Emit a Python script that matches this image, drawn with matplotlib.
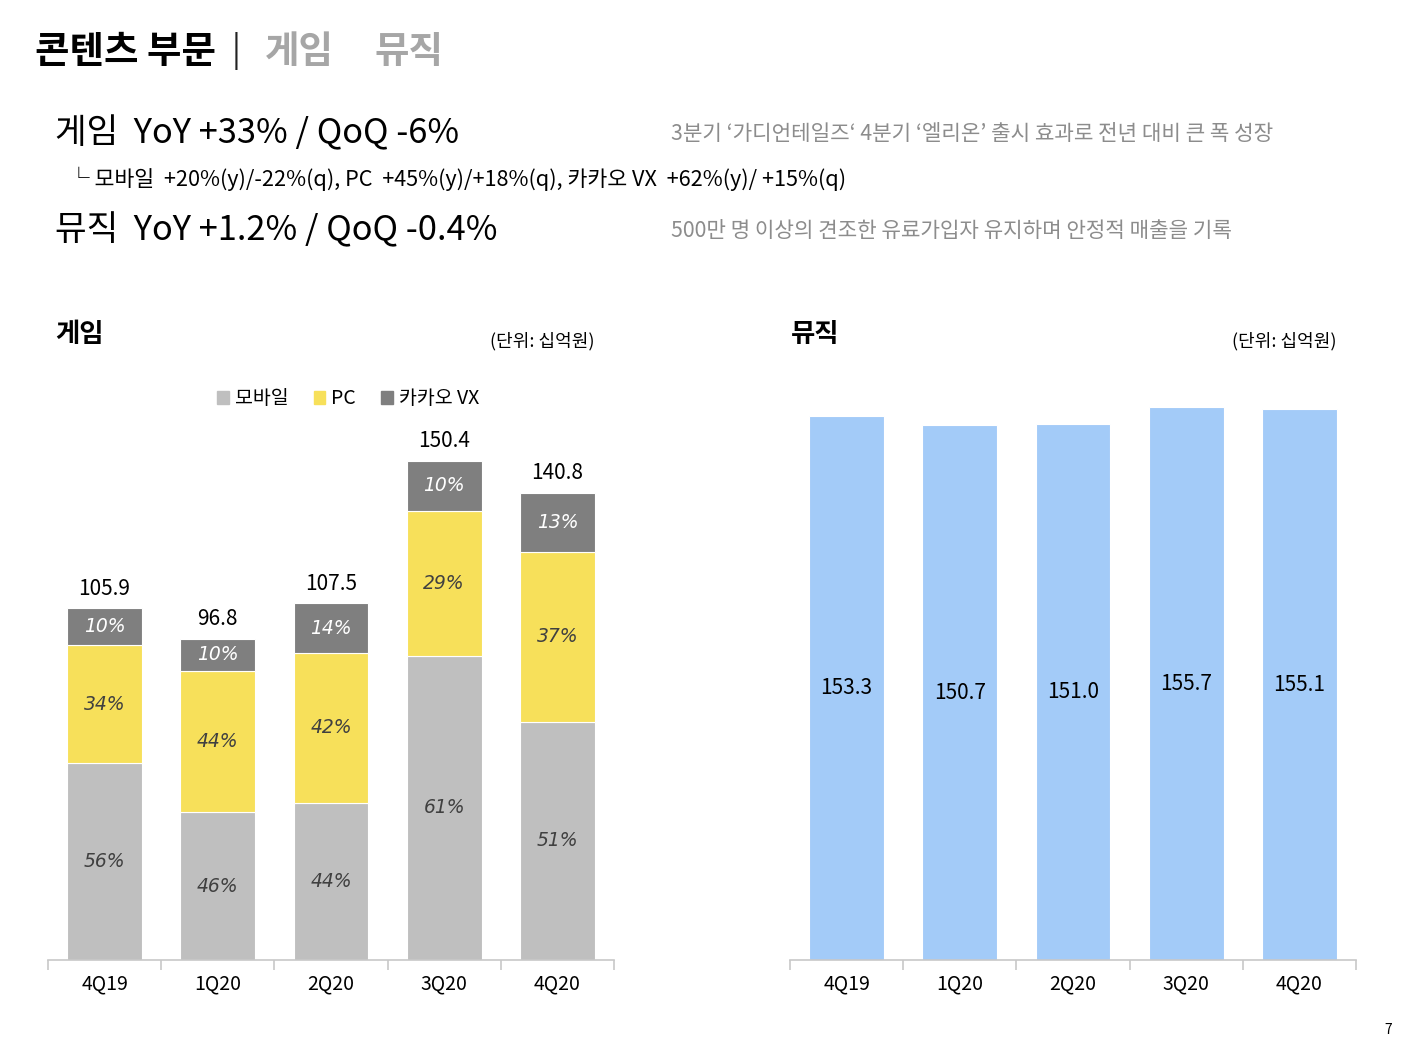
import numpy as np
import matplotlib
matplotlib.use("Agg")
import matplotlib.pyplot as plt
from matplotlib.patches import Patch

plt.rcParams['font.family'] = ['Noto Sans CJK KR', 'DejaVu Sans']

# data (단위: 십억원)
quarters = ['4Q19', '1Q20', '2Q20', '3Q20', '4Q20']
game_mobile = [59.3, 44.5, 47.3, 91.7, 71.7]
game_pc = [35.6, 42.6, 45.2, 43.6, 51.2]
game_vx = [11.0, 9.7, 15.0, 15.1, 17.9]
game_total = [105.9, 96.8, 107.5, 150.4, 140.8]
mobile_pct = ['56%', '46%', '44%', '61%', '51%']
pc_pct = ['34%', '44%', '42%', '29%', '37%']
vx_pct = ['10%', '10%', '14%', '10%', '13%']
music = [153.3, 150.7, 151.0, 155.7, 155.1]

C_MOBILE = '#bfbfbf'
C_PC = '#f7e05a'
C_VX = '#7f7f7f'
C_MUSIC = '#a3cbf8'
C_AXIS = '#c8c8c8'

W, H = 1414, 1050
fig = plt.figure(figsize=(W / 100, H / 100), dpi=100)


def fx(px):
    return px / W


def fy(py):
    # small offset: CJK font's centre sits a bit high
    return 1 - (py + 3) / H


def style_axis(ax):
    for s in ['top', 'right', 'left']:
        ax.spines[s].set_visible(False)
    ax.spines['bottom'].set_color(C_AXIS)
    ax.spines['bottom'].set_linewidth(1.2)
    ax.set_yticks([])
    ax.set_xlim(-0.5, 4.5)
    ax.set_xticks(np.arange(5))
    ax.set_xticklabels(quarters, fontsize=14)
    ax.tick_params(axis='x', length=0, pad=10)
    ax.set_xticks(np.arange(-0.5, 5.0, 1.0), minor=True)
    ax.tick_params(axis='x', which='minor', length=7, color=C_AXIS, width=1.2)


# header texts
fig.text(fx(35), fy(48), '콘텐츠 부문', fontsize=27, weight='bold', va='center')
fig.text(fx(232), fy(48), '|', fontsize=24, va='center', color='#222222')
fig.text(fx(265), fy(48), '게임', fontsize=27, weight='bold', va='center', color='#a6a6a6')
fig.text(fx(375), fy(48), '뮤직', fontsize=27, weight='bold', va='center', color='#a6a6a6')

fig.text(fx(55), fy(131), '게임  YoY +33% / QoQ -6%', fontsize=24.8, va='center')
fig.text(fx(68), fy(176),
         '└ 모바일  +20%(y)/-22%(q), PC  +45%(y)/+18%(q), 카카오 VX  +62%(y)/ +15%(q)',
         fontsize=15.6, va='center')
fig.text(fx(55), fy(228), '뮤직  YoY +1.2% / QoQ -0.4%', fontsize=24.8, va='center')
fig.text(fx(671), fy(131),
         '3분기 ‘가디언테일즈‘ 4분기 ‘엘리온’ 출시 효과로 전년 대비 큰 폭 성장',
         fontsize=15.3, va='center', color='#8c8c8c')
fig.text(fx(671), fy(228),
         '500만 명 이상의 견조한 유료가입자 유지하며 안정적 매출을 기록',
         fontsize=15.3, va='center', color='#8c8c8c')

fig.text(fx(55), fy(331), '게임', fontsize=19, weight='bold', va='center')
fig.text(fx(594), fy(338), '(단위: 십억원)', fontsize=13, va='center', ha='right')
fig.text(fx(791), fy(331), '뮤직', fontsize=19, weight='bold', va='center')
fig.text(fx(1337), fy(338), '(단위: 십억원)', fontsize=13, va='center', ha='right')
fig.text(fx(1392), fy(1027), '7', fontsize=10, va='center', ha='right')

# game chart
ax1 = fig.add_axes([fx(48), 1 - 960 / H, 566 / W, 560 / H])
x = np.arange(len(quarters))
w = 0.66
mob = np.array(game_mobile)
pc = np.array(game_pc)
vx = np.array(game_vx)
ax1.bar(x, mob, w, color=C_MOBILE, edgecolor='white', linewidth=0.8)
ax1.bar(x, pc, w, bottom=mob, color=C_PC, edgecolor='white', linewidth=0.8)
ax1.bar(x, vx, w, bottom=mob + pc, color=C_VX, edgecolor='white', linewidth=0.8)
ax1.set_ylim(0, 560 / 3.32)
for i in range(len(x)):
    ax1.text(x[i], mob[i] / 2, mobile_pct[i], ha='center', va='center', fontsize=13.5,
             style='italic', color='#404040', family='DejaVu Sans')
    ax1.text(x[i], mob[i] + pc[i] / 2, pc_pct[i], ha='center', va='center', fontsize=13.5,
             style='italic', color='#404040', family='DejaVu Sans')
    ax1.text(x[i], mob[i] + pc[i] + vx[i] / 2, vx_pct[i], ha='center', va='center',
             fontsize=13.5, style='italic', color='white', family='DejaVu Sans')
    ax1.text(x[i], game_total[i] + 2.5, f'{game_total[i]:.1f}', ha='center', va='bottom',
             fontsize=15)
style_axis(ax1)

handles = [Patch(color=C_MOBILE), Patch(color=C_PC), Patch(color=C_VX)]
fig.legend(handles, ['모바일', 'PC', '카카오 VX'], loc='center',
           bbox_to_anchor=(fx(348), fy(396)), ncol=3, frameon=False,
           fontsize=14, handlelength=0.6, handleheight=0.6, handletextpad=0.3,
           columnspacing=1.3)

# music chart
ax2 = fig.add_axes([fx(790), 1 - 960 / H, 566 / W, 560 / H])
ax2.bar(x, music, w, color=C_MUSIC, edgecolor='white', linewidth=0.8)
ax2.set_ylim(0, 560 / 3.55)
for i in range(len(x)):
    ax2.text(x[i], music[i] / 2, f'{music[i]:.1f}', ha='center', va='center', fontsize=15)
style_axis(ax2)

fig.savefig('out.png', dpi=100)
